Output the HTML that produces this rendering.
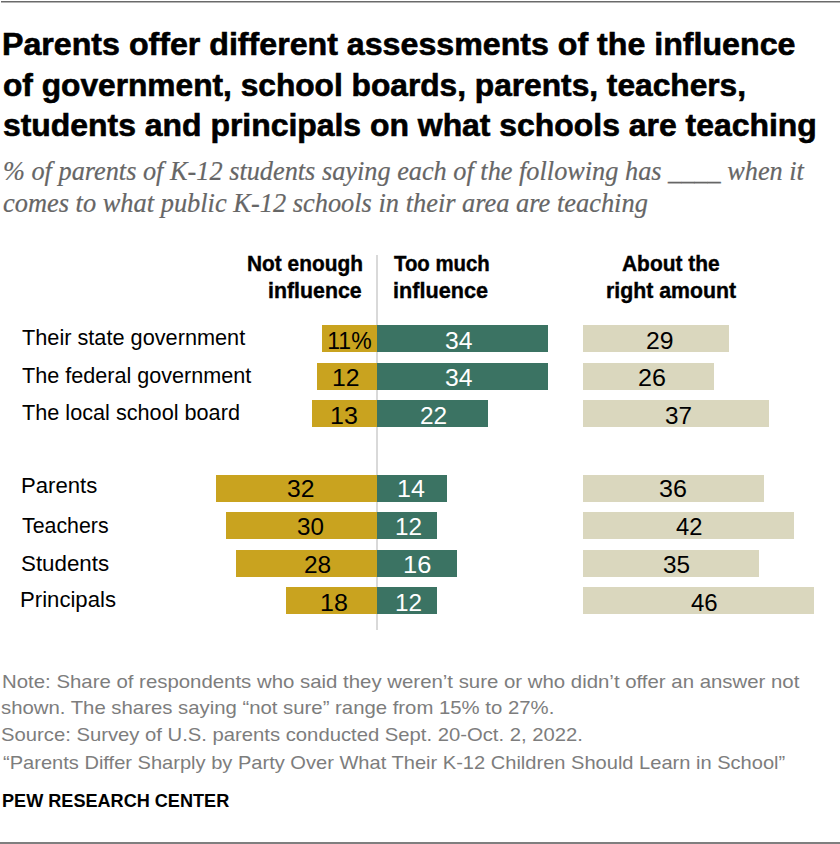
<!DOCTYPE html>
<html><head><meta charset="utf-8">
<style>
html,body{margin:0;padding:0;background:#fff;}
body{width:840px;height:844px;position:relative;overflow:hidden;font-family:'Liberation Sans',sans-serif;color:#000;}
.x{position:absolute;white-space:nowrap;transform-origin:0 0;}
.r{position:absolute;}
.g{background:#C9A31F;}
.t{background:#3B7363;}
.b{background:#DAD7BE;}
</style></head>
<body>
<div class="r" style="left:1px;top:1px;width:839px;height:1px;background:#6a6a6a;"></div>
<div class="r" style="left:1px;top:2px;width:839px;height:1px;background:#b4b4b4;"></div>
<div class="r" style="left:0;top:842px;width:840px;height:2px;background:#7f7f7f;"></div>
<div class="r" style="left:376px;top:255px;width:2px;height:375px;background:#d9d9d9;"></div>
<div class="r g" style="left:321.67px;top:325.0px;width:55.33px;height:27.0px;"></div>
<div class="r t" style="left:377.0px;top:325.0px;width:171.02px;height:27.0px;"></div>
<div class="r b" style="left:583.0px;top:325.0px;width:145.87px;height:27.0px;"></div>
<div class="r g" style="left:316.64px;top:362.5px;width:60.36px;height:27.0px;"></div>
<div class="r t" style="left:377.0px;top:362.5px;width:171.02px;height:27.0px;"></div>
<div class="r b" style="left:583.0px;top:362.5px;width:130.78px;height:27.0px;"></div>
<div class="r g" style="left:311.61px;top:400.0px;width:65.39px;height:27.0px;"></div>
<div class="r t" style="left:377.0px;top:400.0px;width:110.66px;height:27.0px;"></div>
<div class="r b" style="left:583.0px;top:400.0px;width:186.11px;height:27.0px;"></div>
<div class="r g" style="left:216.04px;top:474.8px;width:160.96px;height:27.0px;"></div>
<div class="r t" style="left:377.0px;top:474.8px;width:70.42px;height:27.0px;"></div>
<div class="r b" style="left:583.0px;top:474.8px;width:181.08px;height:27.0px;"></div>
<div class="r g" style="left:226.10px;top:512.4px;width:150.90px;height:27.0px;"></div>
<div class="r t" style="left:377.0px;top:512.4px;width:60.36px;height:27.0px;"></div>
<div class="r b" style="left:583.0px;top:512.4px;width:211.26px;height:27.0px;"></div>
<div class="r g" style="left:236.16px;top:549.9px;width:140.84px;height:27.0px;"></div>
<div class="r t" style="left:377.0px;top:549.9px;width:80.48px;height:27.0px;"></div>
<div class="r b" style="left:583.0px;top:549.9px;width:176.05px;height:27.0px;"></div>
<div class="r g" style="left:286.46px;top:587.4px;width:90.54px;height:27.0px;"></div>
<div class="r t" style="left:377.0px;top:587.4px;width:60.36px;height:27.0px;"></div>
<div class="r b" style="left:583.0px;top:587.4px;width:231.38px;height:27.0px;"></div>
<div class="x" style="left:1.53px;top:26.28px;font-size:31px;line-height:38.75px;font-weight:bold;font-style:normal;font-family:'Liberation Sans',sans-serif;color:#000;transform:scaleX(1.0373);-webkit-text-stroke:0.6px #000;">Parents offer different assessments of the influence</div>
<div class="x" style="left:2.58px;top:66.88px;font-size:31px;line-height:38.75px;font-weight:bold;font-style:normal;font-family:'Liberation Sans',sans-serif;color:#000;transform:scaleX(1.0221);-webkit-text-stroke:0.6px #000;">of government, school boards, parents, teachers,</div>
<div class="x" style="left:2.57px;top:107.28px;font-size:31px;line-height:38.75px;font-weight:bold;font-style:normal;font-family:'Liberation Sans',sans-serif;color:#000;transform:scaleX(1.0292);-webkit-text-stroke:0.6px #000;">students and principals on what schools are teaching</div>
<div class="x" style="left:3.00px;top:155.09px;font-size:26.4px;line-height:33.0px;font-weight:normal;font-style:italic;font-family:'Liberation Serif',serif;color:#666666;transform:scaleX(0.9963);-webkit-text-stroke:0.2px #666666;">% of parents of K-12 students saying each of the following has ____ when it</div>
<div class="x" style="left:3.00px;top:187.49px;font-size:26.4px;line-height:33.0px;font-weight:normal;font-style:italic;font-family:'Liberation Serif',serif;color:#666666;transform:scaleX(1.0005);-webkit-text-stroke:0.2px #666666;">comes to what public K-12 schools in their area are teaching</div>
<div class="x" style="left:246.54px;top:249.82px;font-size:21.8px;line-height:27.25px;font-weight:bold;font-style:normal;font-family:'Liberation Sans',sans-serif;color:#000;transform:scaleX(0.9571);-webkit-text-stroke:0.4px #000;">Not enough</div>
<div class="x" style="left:268.42px;top:276.82px;font-size:21.8px;line-height:27.25px;font-weight:bold;font-style:normal;font-family:'Liberation Sans',sans-serif;color:#000;transform:scaleX(0.9787);-webkit-text-stroke:0.4px #000;">influence</div>
<div class="x" style="left:393.60px;top:249.82px;font-size:21.8px;line-height:27.25px;font-weight:bold;font-style:normal;font-family:'Liberation Sans',sans-serif;color:#000;transform:scaleX(0.9343);-webkit-text-stroke:0.4px #000;">Too much</div>
<div class="x" style="left:392.61px;top:276.82px;font-size:21.8px;line-height:27.25px;font-weight:bold;font-style:normal;font-family:'Liberation Sans',sans-serif;color:#000;transform:scaleX(0.9926);-webkit-text-stroke:0.4px #000;">influence</div>
<div class="x" style="left:622.30px;top:249.82px;font-size:21.8px;line-height:27.25px;font-weight:bold;font-style:normal;font-family:'Liberation Sans',sans-serif;color:#000;transform:scaleX(0.9604);-webkit-text-stroke:0.4px #000;">About the</div>
<div class="x" style="left:606.12px;top:276.82px;font-size:21.8px;line-height:27.25px;font-weight:bold;font-style:normal;font-family:'Liberation Sans',sans-serif;color:#000;transform:scaleX(0.9765);-webkit-text-stroke:0.4px #000;">right amount</div>
<div class="x" style="left:22.00px;top:324.33px;font-size:22px;line-height:27.5px;font-weight:normal;font-style:normal;font-family:'Liberation Sans',sans-serif;color:#000;transform:scaleX(0.9867);">Their state government</div>
<div class="x" style="left:22.00px;top:362.13px;font-size:22px;line-height:27.5px;font-weight:normal;font-style:normal;font-family:'Liberation Sans',sans-serif;color:#000;transform:scaleX(0.9816);">The federal government</div>
<div class="x" style="left:22.00px;top:398.63px;font-size:22px;line-height:27.5px;font-weight:normal;font-style:normal;font-family:'Liberation Sans',sans-serif;color:#000;transform:scaleX(0.9845);">The local school board</div>
<div class="x" style="left:20.79px;top:471.73px;font-size:22px;line-height:27.5px;font-weight:normal;font-style:normal;font-family:'Liberation Sans',sans-serif;color:#000;transform:scaleX(1.0055);">Parents</div>
<div class="x" style="left:22.00px;top:511.73px;font-size:22px;line-height:27.5px;font-weight:normal;font-style:normal;font-family:'Liberation Sans',sans-serif;color:#000;transform:scaleX(0.9697);">Teachers</div>
<div class="x" style="left:20.98px;top:550.33px;font-size:22px;line-height:27.5px;font-weight:normal;font-style:normal;font-family:'Liberation Sans',sans-serif;color:#000;transform:scaleX(1.0153);">Students</div>
<div class="x" style="left:20.49px;top:585.83px;font-size:22px;line-height:27.5px;font-weight:normal;font-style:normal;font-family:'Liberation Sans',sans-serif;color:#000;transform:scaleX(1.0065);">Principals</div>
<div class="x" style="left:327.25px;top:326.96px;font-size:23px;line-height:28.75px;font-weight:normal;font-style:normal;font-family:'Liberation Sans',sans-serif;color:#000;transform:scaleX(1.0000);">11%</div>
<div class="x" style="left:445.18px;top:326.96px;font-size:23px;line-height:28.75px;font-weight:normal;font-style:normal;font-family:'Liberation Sans',sans-serif;color:#fff;transform:scaleX(1.0729);">34</div>
<div class="x" style="left:645.72px;top:326.96px;font-size:23px;line-height:28.75px;font-weight:normal;font-style:normal;font-family:'Liberation Sans',sans-serif;color:#000;transform:scaleX(1.0750);">29</div>
<div class="x" style="left:332.35px;top:364.36px;font-size:23px;line-height:28.75px;font-weight:normal;font-style:normal;font-family:'Liberation Sans',sans-serif;color:#000;transform:scaleX(1.0761);">12</div>
<div class="x" style="left:445.18px;top:364.36px;font-size:23px;line-height:28.75px;font-weight:normal;font-style:normal;font-family:'Liberation Sans',sans-serif;color:#fff;transform:scaleX(1.0729);">34</div>
<div class="x" style="left:637.91px;top:364.36px;font-size:23px;line-height:28.75px;font-weight:normal;font-style:normal;font-family:'Liberation Sans',sans-serif;color:#000;transform:scaleX(1.0917);">26</div>
<div class="x" style="left:330.33px;top:401.76px;font-size:23px;line-height:28.75px;font-weight:normal;font-style:normal;font-family:'Liberation Sans',sans-serif;color:#000;transform:scaleX(1.0870);">13</div>
<div class="x" style="left:419.69px;top:401.76px;font-size:23px;line-height:28.75px;font-weight:normal;font-style:normal;font-family:'Liberation Sans',sans-serif;color:#fff;transform:scaleX(1.0625);">22</div>
<div class="x" style="left:664.75px;top:401.76px;font-size:23px;line-height:28.75px;font-weight:normal;font-style:normal;font-family:'Liberation Sans',sans-serif;color:#000;transform:scaleX(1.0542);">37</div>
<div class="x" style="left:286.93px;top:474.66px;font-size:23px;line-height:28.75px;font-weight:normal;font-style:normal;font-family:'Liberation Sans',sans-serif;color:#000;transform:scaleX(1.0729);">32</div>
<div class="x" style="left:397.33px;top:474.66px;font-size:23px;line-height:28.75px;font-weight:normal;font-style:normal;font-family:'Liberation Sans',sans-serif;color:#fff;transform:scaleX(1.0870);">14</div>
<div class="x" style="left:659.31px;top:474.66px;font-size:23px;line-height:28.75px;font-weight:normal;font-style:normal;font-family:'Liberation Sans',sans-serif;color:#000;transform:scaleX(1.0917);">36</div>
<div class="x" style="left:296.95px;top:512.96px;font-size:23px;line-height:28.75px;font-weight:normal;font-style:normal;font-family:'Liberation Sans',sans-serif;color:#000;transform:scaleX(1.0521);">30</div>
<div class="x" style="left:395.39px;top:512.96px;font-size:23px;line-height:28.75px;font-weight:normal;font-style:normal;font-family:'Liberation Sans',sans-serif;color:#fff;transform:scaleX(1.0543);">12</div>
<div class="x" style="left:675.50px;top:512.96px;font-size:23px;line-height:28.75px;font-weight:normal;font-style:normal;font-family:'Liberation Sans',sans-serif;color:#000;transform:scaleX(1.0320);">42</div>
<div class="x" style="left:303.94px;top:551.16px;font-size:23px;line-height:28.75px;font-weight:normal;font-style:normal;font-family:'Liberation Sans',sans-serif;color:#000;transform:scaleX(1.0625);">28</div>
<div class="x" style="left:402.78px;top:551.16px;font-size:23px;line-height:28.75px;font-weight:normal;font-style:normal;font-family:'Liberation Sans',sans-serif;color:#fff;transform:scaleX(1.1087);">16</div>
<div class="x" style="left:662.94px;top:551.16px;font-size:23px;line-height:28.75px;font-weight:normal;font-style:normal;font-family:'Liberation Sans',sans-serif;color:#000;transform:scaleX(1.0583);">35</div>
<div class="x" style="left:319.83px;top:588.66px;font-size:23px;line-height:28.75px;font-weight:normal;font-style:normal;font-family:'Liberation Sans',sans-serif;color:#000;transform:scaleX(1.0870);">18</div>
<div class="x" style="left:395.39px;top:588.66px;font-size:23px;line-height:28.75px;font-weight:normal;font-style:normal;font-family:'Liberation Sans',sans-serif;color:#fff;transform:scaleX(1.0543);">12</div>
<div class="x" style="left:691.20px;top:588.66px;font-size:23px;line-height:28.75px;font-weight:normal;font-style:normal;font-family:'Liberation Sans',sans-serif;color:#000;transform:scaleX(1.0440);">46</div>
<div class="x" style="left:1.80px;top:670.23px;font-size:18.5px;line-height:23.12px;font-weight:normal;font-style:normal;font-family:'Liberation Sans',sans-serif;color:#7d7d7d;transform:scaleX(1.1019);">Note: Share of respondents who said they weren’t sure or who didn’t offer an answer not</div>
<div class="x" style="left:0.90px;top:696.43px;font-size:18.5px;line-height:23.12px;font-weight:normal;font-style:normal;font-family:'Liberation Sans',sans-serif;color:#7d7d7d;transform:scaleX(1.0988);">shown. The shares saying “not sure” range from 15% to 27%.</div>
<div class="x" style="left:0.91px;top:723.33px;font-size:18.5px;line-height:23.12px;font-weight:normal;font-style:normal;font-family:'Liberation Sans',sans-serif;color:#7d7d7d;transform:scaleX(1.0945);">Source: Survey of U.S. parents conducted Sept. 20-Oct. 2, 2022.</div>
<div class="x" style="left:2.52px;top:750.53px;font-size:18.5px;line-height:23.12px;font-weight:normal;font-style:normal;font-family:'Liberation Sans',sans-serif;color:#7d7d7d;transform:scaleX(1.0847);">“Parents Differ Sharply by Party Over What Their K-12 Children Should Learn in School”</div>
<div class="x" style="left:1.95px;top:788.54px;font-size:19px;line-height:23.75px;font-weight:bold;font-style:normal;font-family:'Liberation Sans',sans-serif;color:#000;transform:scaleX(0.9523);">PEW RESEARCH CENTER</div>
</body></html>
